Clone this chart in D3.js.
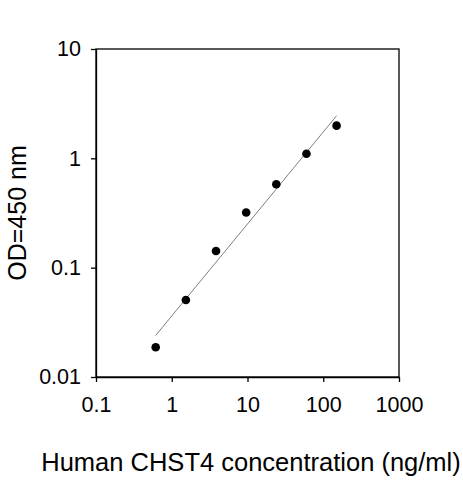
<!DOCTYPE html>
<html>
<head>
<meta charset="utf-8">
<script src="https://cdn.jsdelivr.net/npm/d3@7"></script>
<style>
  body { margin: 0; background: #fff; }
  text { font-family: "Liberation Sans", Arial, sans-serif; fill: #000; }
</style>
</head>
<body>
<svg id="chart" width="463" height="480"></svg>
<script>
// standard curve readings
var concentration = [0.614, 1.536, 3.84, 9.6, 24, 60, 150];
var od450 = [0.0187, 0.0506, 0.142, 0.32, 0.58, 1.10, 1.99];

// fitted line end points
var fitConc = [0.614, 150];
var fitOd = [0.024, 2.45];

var xTicks = [0.1, 1, 10, 100, 1000];
var yTicks = [0.01, 0.1, 1, 10];

var svg = d3.select('#chart');
var padding = { t: 49, r: 64, b: 103, l: 96 };
var chartWidth = +svg.attr('width') - padding.l - padding.r;
var chartHeight = +svg.attr('height') - padding.t - padding.b;

var xScale = d3.scaleLog().domain([0.1, 1000]).range([0, chartWidth]);
var yScale = d3.scaleLog().domain([0.01, 10]).range([chartHeight, 0]);

var chartG = svg.append('g')
    .attr('transform', `translate(${padding.l}, ${padding.t})`);

// frame (top and right sides)
chartG.append('rect')
    .attr('x', 0).attr('y', 0)
    .attr('width', chartWidth).attr('height', chartHeight)
    .attr('fill', 'none')
    .attr('stroke', '#000')
    .attr('stroke-width', 1.3);

var xAxis = d3.axisBottom(xScale)
    .tickValues(xTicks)
    .tickFormat(d => String(d))
    .tickSizeInner(5).tickSizeOuter(0).tickPadding(15);
var yAxis = d3.axisLeft(yScale)
    .tickValues(yTicks)
    .tickFormat(d => String(d))
    .tickSizeInner(5).tickSizeOuter(0).tickPadding(10);

var gx = chartG.append('g')
    .attr('transform', `translate(0, ${chartHeight})`)
    .call(xAxis);
var gy = chartG.append('g').call(yAxis);

[gx, gy].forEach(g => {
    g.selectAll('path, line').attr('stroke', '#000').attr('stroke-width', 1.3);
    g.selectAll('text')
        .style('font-family', '"Liberation Sans", Arial, sans-serif')
        .style('font-size', '21.5px')
        .attr('fill', '#000');
});

// fit line
var line = d3.line()
    .x(d => xScale(d[0]))
    .y(d => yScale(d[1]));
chartG.append('path')
    .datum(d3.zip(fitConc, fitOd))
    .attr('d', line)
    .attr('fill', 'none')
    .attr('stroke', '#808080')
    .attr('stroke-width', 1);

// points
chartG.selectAll('.pt')
    .data(d3.zip(concentration, od450))
    .enter()
    .append('circle')
    .attr('class', 'pt')
    .attr('cx', d => xScale(d[0]))
    .attr('cy', d => yScale(d[1]))
    .attr('r', 4.3)
    .attr('fill', '#000');

// axis titles
svg.append('text')
    .attr('x', 251)
    .attr('y', 471)
    .attr('text-anchor', 'middle')
    .style('font-size', '25.5px')
    .text('Human CHST4 concentration (ng/ml)');

svg.append('text')
    .attr('transform', 'translate(26, 213) rotate(-90)')
    .attr('text-anchor', 'middle')
    .style('font-size', '25px')
    .text('OD=450 nm');
</script>
</body>
</html>
